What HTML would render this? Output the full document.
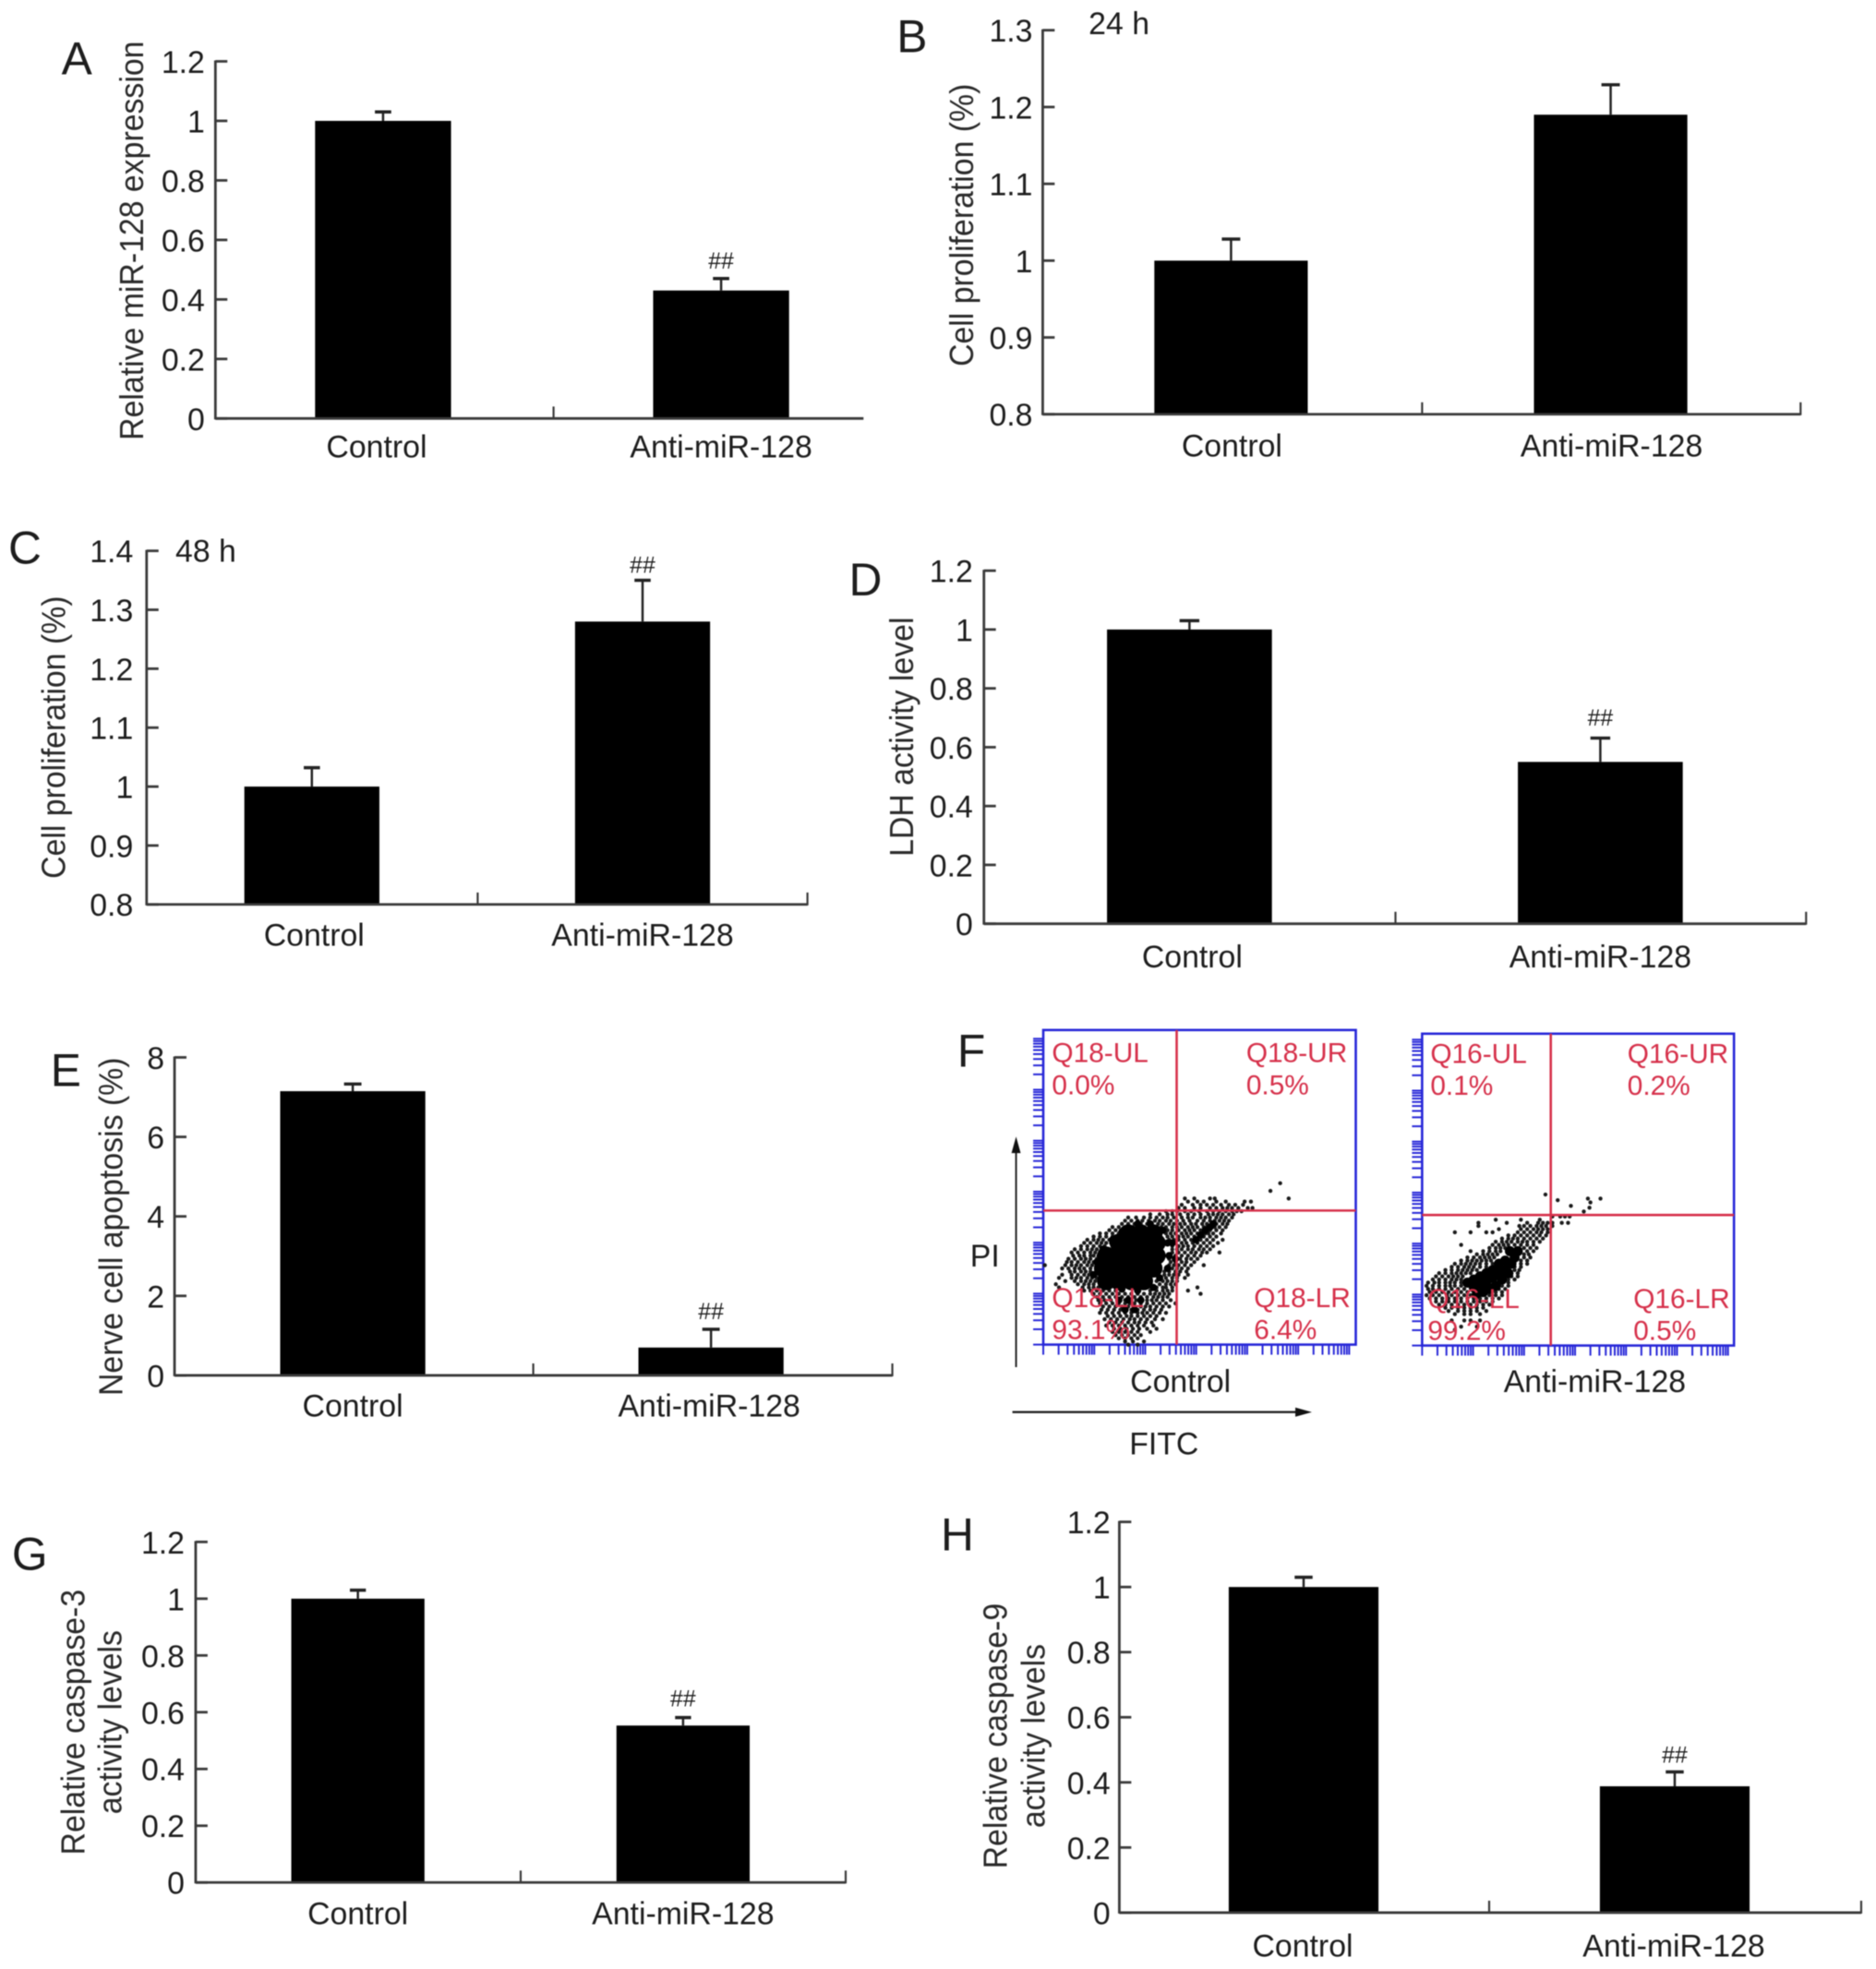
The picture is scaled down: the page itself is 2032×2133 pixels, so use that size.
<!DOCTYPE html>
<html lang="en">
<head>
<meta charset="utf-8">
<title>Anti-miR-128 figure panels</title>
<style>
html,body{margin:0;padding:0;background:#fff;}
#figure{display:block;width:2032px;height:2133px;background:#fff;filter:blur(0.5px);font-family:"Liberation Sans",Arial,sans-serif;}
</style>
</head>
<body>
<svg id="figure" xmlns="http://www.w3.org/2000/svg" width="2032" height="2133" viewBox="0 0 2032 2133"></svg>
<script>
// ---- Bar chart data ----
const categories = ['Control', 'Anti-miR-128'];

const aTicks = ['0', '0.2', '0.4', '0.6', '0.8', '1', '1.2'];
const aValues = [1, 0.43];
const aErrors = [1.03, 0.47];
const aMarks = ['', '##'];

const bTicks = ['0.8', '0.9', '1', '1.1', '1.2', '1.3'];
const bValues = [1, 1.19];
const bErrors = [1.028, 1.229];
const bMarks = ['', ''];

const cTicks = ['0.8', '0.9', '1', '1.1', '1.2', '1.3', '1.4'];
const cValues = [1, 1.28];
const cErrors = [1.032, 1.35];
const cMarks = ['', '##'];

const dTicks = ['0', '0.2', '0.4', '0.6', '0.8', '1', '1.2'];
const dValues = [1, 0.55];
const dErrors = [1.03, 0.631];
const dMarks = ['', '##'];

const eTicks = ['0', '2', '4', '6', '8'];
const eValues = [7.15, 0.7];
const eErrors = [7.33, 1.16];
const eMarks = ['', '##'];

const gTicks = ['0', '0.2', '0.4', '0.6', '0.8', '1', '1.2'];
const gValues = [1, 0.553];
const gErrors = [1.03, 0.581];
const gMarks = ['', '##'];

const hTicks = ['0', '0.2', '0.4', '0.6', '0.8', '1', '1.2'];
const hValues = [1, 0.388];
const hErrors = [1.03, 0.432];
const hMarks = ['', '##'];

// ---- Flow cytometry data: % of plot range. Rows are [PI, [FITC, ...]] ----
const controlCoreMajor = [[20,21],[24,21],[28,21],[32,21],[19,25],[23,25],[27,25],[31,25],[35,25],[20,29],[24,29],[28,29],[32,29],[36,29],[24,33],[28,33],[32,33],[36,33],[27,36],[31,36],[35,36]];
const controlCoreMinor = [[53,38],[51.5,37],[50,35.5],[48.5,34],[54,39],[16,23],[17,27],[19,31],[22,34],[25,36.5],[30,39],[34,39],[38,37],[39.5,33],[40,29],[39.5,25],[37,22],[35,19],[30,18],[25,18.5],[21,19.5],[27,15],[31,15],[24,15],[29,12],[26,12],[41,33],[42,28]];
const controlEventRows = [
[51.8,[75.3]],[49.4,[72.2]],[47,[45,48,53,54.5,78]],
[46,[46,49,51,55,58,64,66]],
[45,[44,47.5,50,52,54,56.5,59,61,63.5]],
[44,[43,45,48,50,53,55,57,58.5,60,62,65,66.5]],
[43,[39,41,42.5,45,47,49.5,52,54,56,58,60,61.5,63]],
[42,[34,37,39.5,41,43.5,46,48,50,52.5,54,55.5,57,59,60.5]],
[41,[27,29.5,32,34,36,38,39.5,41.5,44,46,47.5,50,51.5,53,55,56.5,58,60]],
[40,[26,28,30,31.5,33.5,35.5,37,39,40.5,42.5,44.5,46.5,49,51,53,54.5,56,57.5,59]],
[39,[25,27,29,31,33,34.5,36.5,38,40,41.5,43.5,45,47,48.5,50.5,52,53.5,55,57,58.5]],
[38,[22,24,26,28.5,30,32,34,37.5,39,41,42.5,44,46,47.5,49,51,52,53,54.5,56,58]],
[37,[21,23,25,38,39.5,41,43,45,46.5,48,50,51,52,53,55,57]],
[36,[18,20,22,24,39,40.5,42,44,45.5,47,49,50.5,51.5,52.5,54,56.5]],
[35,[16,18,20,22,23.5,39.5,41,43,44.5,46,48,49.5,51,53,55]],
[34,[14,16,17.5,19,21,22.5,40,41.5,43,45,47,48.5,50,52,54,57]],
[33,[13,15,17,18.5,20,21.5,40,42,44,45.5,47.5,49,51,53,55.5]],
[32,[12,14,16,18,19.5,41,43,44.5,46,48,50,52,54]],
[31,[10,12,14,15.5,17,18.5,41,42.5,44,46,47.5,49.5,51,53]],
[30,[9,11,13,15,16.5,18,41,43,45,47,48.5,50.5,52,56]],
[29,[9.5,11.5,13,15,16,17.5,40,42,44,46,48,50]],
[28,[8,10,12,13.5,15,17,40,41.5,43.5,45.5,47,49]],
[27,[7.5,9,11,13,14.5,16,40.5,42,44,45.5,48]],
[26,[0.5,7,9,10.5,12,14,15.5,40,41.5,43,45,47,51]],
[25,[6,8,10,11.5,13,15,39,41,42.5,44,46]],
[24,[8.5,10,12,13.5,15,38.5,40,42,43.5,45.5]],
[23,[6,9,11,13,14.5,16,38.5,40,41.5,43,46]],
[22,[5,9,10.5,12,14,15.5,17,37,39,41,42.5,45]],
[21,[7,10,12,13.5,15,16.5,36,38,39.5,41,42.5]],
[20,[4,11,13,14.5,16,18,37,39,40.5,42]],
[19,[5,12.5,14.5,16,17.5,19.5,36,38,39,41,49]],
[18,[13,15,17,19,21,23,34,36,38,39.5,41,46]],
[17,[16,18,20,22,24,26,28,30,32,34,35.5,37,38.5,40,50]],
[16,[17,19,21,23,25,27,29,31,33,35,36.5,38,39.5]],
[15,[17.5,19.5,21.5,24,26,28,29.5,31.5,33,34.5,36,38,40.5]],
[14,[18,20,22,24,26,27.5,29,31,33,35,37,39,42]],
[13,[19,21,23,25,27,29,31,32.5,34,36,38,40]],
[12,[18.5,20.5,22.5,24.5,26,28,30,32,34,35.5,37.5]],
[11,[18,20,22,24,26,28,30,31.5,33,35,37,39]],
[10,[20.5,22.5,24.5,26.5,28,30,32,34,36]],
[9,[19.5,21.5,23.5,25.5,27.5,29,31,33,35.5,38]],
[8,[21,23,25,27,29,30.5,32.5,34.5]],
[7,[20,22,24,26,28,30,32,35]],
[6,[22.5,24.5,26.5,28.5,30.5,33,36]],
[5,[22,24,26,28,30,34]],
[4,[23,25,27,29,31]],
[3,[24,26,28,30]],
[2,[26,28.5,32]],
[1,[27,30]]
];

const antiCoreMajor = [[30,31],[29,29],[27.5,31],[28,27],[26,28],[26,25],[24,27],[24,24],[22,25],[22,22.5],[20,24],[20,21],[18,23],[18,20.5],[16,22],[16,19.5],[14,21],[25,22],[27,24],[21,19],[23,20],[19,18],[17,17.5]];
const antiEventRows = [
[49,[38.8]],[47.7,[52.3,56.3]],[47.2,[42.7]],[46.5,[53.1]],[45.4,[46.9]],[44.8,[52.8]],[43.6,[51]],
[42,[41,43.5,45,46.5]],
[41,[23,31,37]],
[40,[17.5,26.5,33,36.5,38,39.5,41,44,46]],
[39,[17.5,30.5,32,34,36,37.5,39,41]],
[38,[24,31,33,35,36.5,38,39.5]],
[37,[10,15,20,22,30,32,34,36,37.5,39.5]],
[36,[27,29,31,33,35,37,39]],
[35,[25,27,28.5,30,32,34,36,38]],
[34,[23,25,26.5,28,30,31.5,33,35,37]],
[33,[12,22,24,25.5,27,29,31,33,35]],
[32,[21,23,24.5,26,32,34,36]],
[31,[15,19,21,23,24.5,33,35]],
[30,[17,19,20.5,22,23.5,32,33.5]],
[29,[14,16,18,19.5,21,22.5,32,34]],
[28,[12,14,15.5,17,18.5,20,21.5,31,33]],
[27,[10,12,13.5,15,16.5,18,20,22,31,33]],
[26,[9,11,13,14.5,16,18,20,29,31]],
[25,[7,9,11,12.5,14,15.5,17,29,30.5]],
[24,[5,7,9,10.5,12,13.5,15,28,30]],
[23,[4,6,8,9.5,11,12.5,26,28,30]],
[22,[3,5,7,9,10.5,12,27,29]],
[21,[1.5,3.5,5,7,8.5,10,12,25,27]],
[20,[1,3,5,7,8.5,10,12,23,25,27]],
[19,[1.5,3,5,7,9,11,13,22,24,26]],
[18,[2,4,6,8,10,12,14,21,23,25]],
[17,[1,3,5,7.5,9,11,13,15,21,23,25]],
[16,[2,4,6,8,10,12,14,16,18,20,22,24]],
[15,[4,6,8,10,12,14,16,18,20,22]],
[14,[5,7,9,11,13,15,17,19,21]],
[13,[7,9,11,13,15,17,19]],
[12,[8,11,13,15,17,20]],
[11,[10,13,15,18]],
[9,[9,13,15,18]],
[7,[12,17]],
[6,[10]]
];

const controlQuadrants = ['Q18-UL', 'Q18-UR', 'Q18-LL', 'Q18-LR'];
const controlPercents = ['0.0%', '0.5%', '93.1%', '6.4%'];
const antiQuadrants = ['Q16-UL', 'Q16-UR', 'Q16-LL', 'Q16-LR'];
const antiPercents = ['0.1%', '0.2%', '99.2%', '0.5%'];

// ---- Drawing helpers ----
const NS = 'http://www.w3.org/2000/svg';
const root = document.getElementById('figure');
const INK = '#1d1d1d';
const AXIS = '#3a3a3a';
const K = 0.995;

function mk(tag, attrs, parent, text) {
  const el = document.createElementNS(NS, tag);
  for (const k in attrs) el.setAttribute(k, attrs[k]);
  if (text !== undefined) el.textContent = text;
  parent.appendChild(el);
  return el;
}

function panelTransform(ox, oy) {
  return 'translate(' + ox + ' ' + oy + ') scale(' + K + ') translate(' + (-ox) + ' ' + (-oy) + ')';
}

function drawBarPanel(p) {
  const g = mk('g', {transform: panelTransform(p.ox, p.oy)}, root);
  
  

  const lo = parseFloat(p.ticks[0]);
  const hi = parseFloat(p.ticks[p.ticks.length - 1]);
  const yScale = v => p.base - (v - lo) / (hi - lo) * (p.base - p.top);
  const xScale = i => p.c0 + i * p.step;

  const letter = mk('text', {x: p.lx, y: p.ly, 'font-size': 50, fill: INK}, g, p.letter);
  
  

  // bars and error bars
  p.values.forEach((v, i) => {
    const bar = mk('rect', {x: xScale(i) - p.bw / 2, y: yScale(v), width: p.bw, height: p.base - yScale(v), fill: '#000'}, g);
    
    

    const stem = mk('line', {x1: xScale(i), x2: xScale(i), y1: yScale(v), y2: yScale(p.errors[i]), stroke: '#222', 'stroke-width': 2.5}, g);
    
    

    const cap = mk('line', {x1: xScale(i) - p.bw * 0.06, x2: xScale(i) + p.bw * 0.06, y1: yScale(p.errors[i]), y2: yScale(p.errors[i]), stroke: '#222', 'stroke-width': 3.5}, g);
    
    

    if (p.marks[i]) {
      const mark = mk('text', {x: xScale(i), y: yScale(p.errors[i]) - p.hashGap + 8, 'font-size': 25, 'text-anchor': 'middle', fill: INK}, g, p.marks[i]);
      
      
    }

    const label = mk('text', {x: xScale(i) + p.labelDx[i], y: p.labelY, 'font-size': 34, 'text-anchor': 'middle', fill: INK}, g, categories[i]);
    
    
  });

  // axes
  const yAxis = mk('line', {x1: p.x0, x2: p.x0, y1: p.top - 1, y2: p.base + 1, stroke: AXIS, 'stroke-width': 2.8}, g);
  
  

  const xAxis = mk('line', {x1: p.x0, x2: p.x1, y1: p.base, y2: p.base, stroke: AXIS, 'stroke-width': 2.8}, g);
  
  

  const midTick = mk('line', {x1: p.mid, x2: p.mid, y1: p.base, y2: p.base - 13, stroke: AXIS, 'stroke-width': 2.2}, g);
  
  

  if (p.rightTick) {
    const endTick = mk('line', {x1: p.x1, x2: p.x1, y1: p.base + 1, y2: p.base - 13, stroke: AXIS, 'stroke-width': 2.2}, g);
    
    
  }

  p.ticks.forEach(t => {
    const y = yScale(parseFloat(t));
    const tick = mk('line', {x1: p.x0, x2: p.x0 + 13, y1: y, y2: y, stroke: AXIS, 'stroke-width': 2.8}, g);
    
    

    const tl = mk('text', {x: p.tickEdge + 2, y: y + 12.5, 'font-size': 34, 'text-anchor': 'end', fill: INK}, g, t);
    
    
  });

  p.titleLines.forEach((line, i) => {
    const tx = p.titleX[i];
    const title = mk('text', {x: 0, y: 0, 'font-size': 34, 'text-anchor': 'middle', fill: '#2a2a2a', transform: 'translate(' + tx + ' ' + p.titleY + ') rotate(-90) scale(1 1.06)'}, g, line);
    
    
  });

  if (p.note) {
    const note = mk('text', {x: p.noteX, y: p.noteY, 'font-size': 34, fill: INK}, g, p.note);
    
    
  }
}

function drawFlowPlot(f) {
  const g = mk('g', {transform: panelTransform(1016, 1080)}, root);
  
  

  const xF = u => f.dataLeft + u / 100 * f.dataW;
  const yF = v => f.dataBottom - v / 100 * f.dataH;

  const BLUE = '#2626d8', RED = '#d6304a';

  // log-decade axis ticks
  const w = f.right - f.left, h = f.bottom - f.top;
  for (let d = 0; d < 7; d++) {
    for (let m = 1; m <= 9; m++) {
      const off = (d + Math.log10(m)) * 55.5;
      if (off < w) {
        const bt = mk('line', {x1: f.left + off, x2: f.left + off, y1: f.bottom, y2: f.bottom + 11, stroke: BLUE, 'stroke-width': 2}, g);
        
        
      }
      if (off < h) {
        const lt = mk('line', {x1: f.left - 11, x2: f.left, y1: f.bottom - off, y2: f.bottom - off, stroke: BLUE, 'stroke-width': 2}, g);
        
        
      }
    }
  }

  const frame = mk('rect', {x: f.left, y: f.top, width: w, height: h, fill: 'none', stroke: BLUE, 'stroke-width': 2.6}, g);
  
  

  // events
  f.rows.forEach(row => {
    row[1].forEach(u => {
      const dot = mk('circle', {cx: xF(u), cy: yF(row[0]), r: 2.2, fill: '#1a1a1a'}, g);
      
      
    });
  });
  f.coreMinor.forEach(pt => {
    const dot = mk('circle', {cx: xF(pt[0]), cy: yF(pt[1]), r: 4, fill: '#000'}, g);
    
    
  });
  f.coreMajor.forEach(pt => {
    const dot = mk('circle', {cx: xF(pt[0]), cy: yF(pt[1]), r: f.coreR, fill: '#000'}, g);
    
    
  });

  // gates
  const vGate = mk('line', {x1: xF(f.gateU), x2: xF(f.gateU), y1: f.top, y2: f.bottom, stroke: RED, 'stroke-width': 2.6}, g);
  
  

  const hGate = mk('line', {x1: f.left, x2: f.right, y1: yF(f.gateV), y2: yF(f.gateV), stroke: RED, 'stroke-width': 2.6}, g);
  
  

  // quadrant labels
  f.quadrants.forEach((q, i) => {
    const name = mk('text', {x: f.qx[i], y: f.qy[i], 'font-size': 30, fill: RED}, g, q);
    
    

    const pct = mk('text', {x: f.qx[i], y: f.qy[i] + 35, 'font-size': 30, fill: RED}, g, f.percents[i]);
    
    
  });

  const cap = mk('text', {x: f.capX, y: 1510, 'font-size': 34, 'text-anchor': 'middle', fill: INK}, g, f.caption);
  
  
}

// ---- Panels ----
drawBarPanel({letter:'A', ox:0, oy:0, lx:67, ly:81, ticks:aTicks, values:aValues, errors:aErrors, marks:aMarks,
  x0:234.5, x1:940, top:66.8, base:455.6, mid:602.6, rightTick:false, c0:417, step:368, bw:148,
  labelDx:[-7,0], labelY:498, tickEdge:221, titleLines:['Relative miR-128 expression'], titleX:[156], titleY:262, hashGap:19});

drawBarPanel({letter:'B', ox:1016, oy:0, lx:971, ly:57, ticks:bTicks, values:bValues, errors:bErrors, marks:bMarks,
  x0:1130, x1:1955, top:32.9, base:451, mid:1543, rightTick:true, c0:1335, step:413.25, bw:167,
  labelDx:[1,1], labelY:497, tickEdge:1117, titleLines:['Cell proliferation (%)'], titleX:[1054], titleY:245, hashGap:19,
  note:'24 h', noteX:1180, noteY:37});

drawBarPanel({letter:'C', ox:0, oy:540, lx:9, ly:611, ticks:cTicks, values:cValues, errors:cErrors, marks:cMarks,
  x0:159.6, x1:879, top:597, base:982, mid:520, rightTick:true, c0:339.5, step:360, bw:147,
  labelDx:[2.5,0], labelY:1027, tickEdge:143, titleLines:['Cell proliferation (%)'], titleX:[71], titleY:800, hashGap:16.3,
  note:'48 h', noteX:191, noteY:609});

drawBarPanel({letter:'D', ox:1016, oy:540, lx:919, ly:645.6, ticks:dTicks, values:dValues, errors:dErrors, marks:dMarks,
  x0:1066, x1:1961, top:618.6, base:1003, mid:1514, rightTick:true, c0:1289.75, step:447.25, bw:179.5,
  labelDx:[3,0], labelY:1050.6, tickEdge:1052, titleLines:['LDH activity level'], titleX:[989], titleY:799.5, hashGap:21.7});

drawBarPanel({letter:'E', ox:0, oy:1080, lx:55, ly:1177, ticks:eTicks, values:eValues, errors:eErrors, marks:eMarks,
  x0:190, x1:971.4, top:1145.8, base:1492, mid:580.5, rightTick:true, c0:384, step:390, bw:158,
  labelDx:[0,-2], labelY:1537, tickEdge:177, titleLines:['Nerve cell apoptosis (%)'], titleX:[133], titleY:1330, hashGap:19});

drawBarPanel({letter:'G', ox:0, oy:1600, lx:13, ly:1701, ticks:gTicks, values:gValues, errors:gErrors, marks:gMarks,
  x0:213, x1:920.6, top:1670.7, base:2041.5, mid:566.8, rightTick:true, c0:389.6, step:354, bw:145,
  labelDx:[0,0], labelY:2087, tickEdge:199, titleLines:['Relative caspase-3','activity levels'], titleX:[92,132], titleY:1867, hashGap:20});

drawBarPanel({letter:'H', ox:1016, oy:1600, lx:1019, ly:1680, ticks:hTicks, values:hValues, errors:hErrors, marks:hMarks,
  x0:1213.4, x1:2021, top:1648.9, base:2074.3, mid:1616, rightTick:true, c0:1414, step:404, bw:163,
  labelDx:[-1,-1], labelY:2122, tickEdge:1201.7, titleLines:['Relative caspase-9','activity levels'], titleX:[1091,1132], titleY:1882, hashGap:18});

drawFlowPlot({name:'flow-plot-control', left:1130.6, right:1470.8, top:1116, bottom:1458.5,
  dataLeft:1130.6, dataW:342.5, dataBottom:1462, dataH:346, gateU:42.4, gateV:43.2,
  rows:controlEventRows, coreMajor:controlCoreMajor, coreMinor:controlCoreMinor, coreR:10,
  quadrants:controlQuadrants, percents:controlPercents,
  qx:[1140,1351.5,1140,1360], qy:[1151,1151,1417.5,1417.5], caption:'Control', capX:1280});

drawFlowPlot({name:'flow-plot-anti-mir-128', left:1543, right:1882.5, top:1120, bottom:1459.5,
  dataLeft:1544.4, dataW:342.4, dataBottom:1463, dataH:342.7, gateU:40.5, gateV:42.5,
  rows:antiEventRows, coreMajor:antiCoreMajor, coreMinor:[], coreR:5.5,
  quadrants:antiQuadrants, percents:antiPercents,
  qx:[1552,1766.5,1549,1773], qy:[1151.7,1151.7,1418.6,1418.6], caption:'Anti-miR-128', capX:1731});

// ---- Panel F shared labels and arrows ----
const fShared = mk('g', {transform: panelTransform(1016, 1080)}, root);



const fLetter = mk('text', {x:1037, y:1156, 'font-size':50, fill:INK}, fShared, 'F');



const piLabel = mk('text', {x:1067, y:1373.6, 'font-size':34, 'text-anchor':'middle', fill:INK}, fShared, 'PI');



const fitcLabel = mk('text', {x:1262, y:1578, 'font-size':34, 'text-anchor':'middle', fill:INK}, fShared, 'FITC');



const piShaft = mk('line', {x1:1101, x2:1101, y1:1483, y2:1245, stroke:'#222', 'stroke-width':2}, fShared);



const piHead = mk('polygon', {points:'1101,1232 1096,1250 1106,1250', fill:'#111'}, fShared);



const fitcShaft = mk('line', {x1:1097, x2:1408, y1:1532, y2:1532, stroke:'#222', 'stroke-width':2.4}, fShared);



const fitcHead = mk('polygon', {points:'1423,1532 1405,1527 1405,1537', fill:'#111'}, fShared);


</script>
</body>
</html>
